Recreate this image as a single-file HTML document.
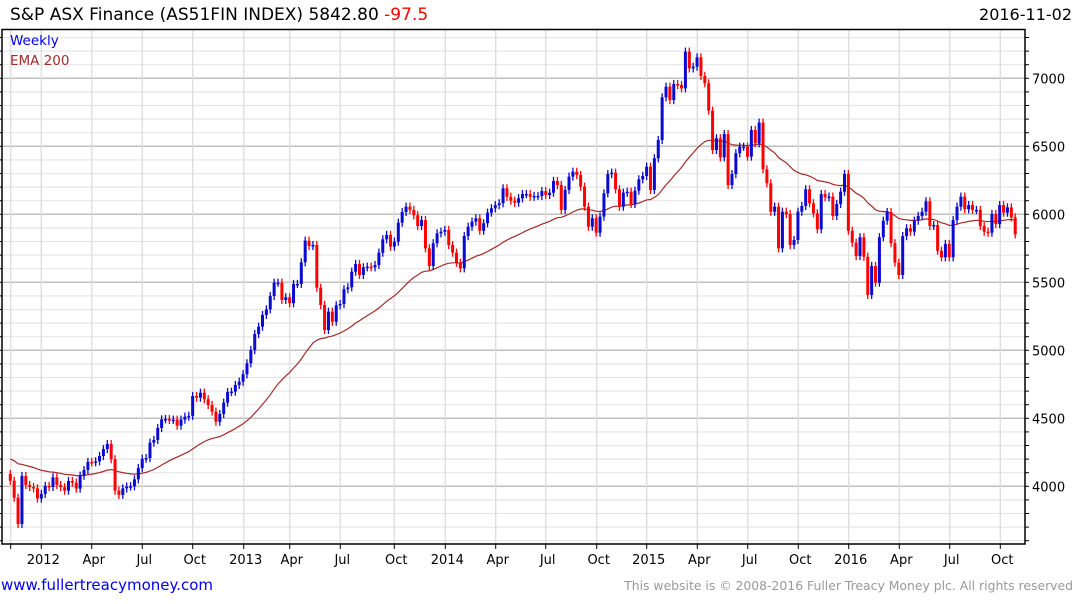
<!DOCTYPE html>
<html><head><meta charset="utf-8"><style>
body{margin:0;background:#fff;width:1075px;height:600px;overflow:hidden;font-family:"DejaVu Sans","Liberation Sans",sans-serif}
svg text{font-family:"DejaVu Sans","Liberation Sans",sans-serif}
</style></head><body>
<svg id="chart" width="1075" height="600" xmlns="http://www.w3.org/2000/svg">
<text x="10" y="20" font-size="17" fill="#000">S&amp;P ASX Finance (AS51FIN INDEX) 5842.80 <tspan fill="#f00">-97.5</tspan></text>
<text x="1072" y="20" font-size="16" fill="#000" text-anchor="end">2016-11-02</text>
<g id="grid"></g>
<g id="ema"></g>
<g id="candles"></g>
<g id="axes"></g>
<text x="10" y="45" font-size="13.5" fill="#0000ee">Weekly</text>
<text x="10" y="65" font-size="13.5" fill="#a52a2a">EMA 200</text>
<text x="1" y="590" font-size="15" fill="#0000ee">www.fullertreacymoney.com</text>
<text x="1073" y="590" font-size="12.4" fill="#999" text-anchor="end">This website is © 2008-2016 Fuller Treacy Money plc. All rights reserved</text>
</svg>
<script>
const closes = [4041,3916,3723,4076,4010,3995,3985,3910,3944,4003,3995,4066,4010,3993,3968,4039,4027,3983,4078,4120,
4179,4177,4184,4223,4274,4311,4199,3968,3937,3985,3998,4000,4051,4134,4203,4208,4321,4341,4429,4492,
4495,4488,4490,4446,4490,4512,4518,4664,4652,4688,4640,4598,4549,4475,4532,4615,4693,4696,4745,4769,
4824,4904,5002,5120,5174,5260,5301,5399,5497,5497,5370,5390,5346,5488,5488,5647,5806,5767,5774,5460,
5333,5149,5284,5210,5331,5340,5449,5463,5578,5635,5554,5610,5615,5610,5627,5718,5816,5848,5762,5799,
5938,6017,6056,6032,5993,5914,5958,5750,5620,5787,5860,5872,5885,5774,5718,5644,5603,5840,5909,5946,
5971,5879,5934,6012,6044,6068,6081,6191,6129,6100,6085,6118,6149,6149,6129,6135,6135,6171,6142,6159,
6245,6215,6032,6179,6277,6313,6289,6203,6056,5909,5971,5865,5983,6154,6296,6306,6184,6056,6159,6166,
6076,6174,6257,6282,6350,6179,6412,6546,6860,6938,6840,6958,6951,6926,7196,7073,7085,7154,7017,6963,
6762,6473,6559,6419,6590,6215,6296,6449,6497,6497,6424,6620,6522,6674,6331,6228,6019,6056,5750,6019,
6002,5774,5811,6019,6061,6184,6081,6007,5890,6149,6125,6130,5988,6076,6166,6296,5879,5791,5693,5831,
5688,5407,5620,5497,5831,5953,6017,5787,5644,5554,5840,5897,5872,5953,5988,6019,6096,5914,5921,5732,
5684,5782,5684,5958,6056,6130,6037,6068,6032,6032,5914,5872,5865,6002,5928,6068,6012,6051,5977,5853];
const firstOpen = 4090;
const emaSeed = 4210;
const yTicks = [4000,4500,5000,5500,6000,6500,7000];
const xTickLabels = ["2012","Apr","Jul","Oct","2013","Apr","Jul","Oct","2014","Apr","Jul","Oct","2015","Apr","Jul","Oct","2016","Apr","Jul","Oct"];
const xTickPos = [41.3,91.7,142.3,192.7,243.7,289.7,340.3,394.3,445.3,495.7,545.7,596.7,646.7,697.3,747.7,798.3,848.7,899.3,949.7,1000.3];

const NS="http://www.w3.org/2000/svg";
const L=2,R=1025,T=29.5,B=544;
function y(v){return 214.3-(v-6000)*0.136;}
function x(i){return 10.3+i*3.88;}
function mk(tag,attrs,parent){const e=document.createElementNS(NS,tag);for(const k in attrs)e.setAttribute(k,attrs[k]);parent.appendChild(e);return e;}
const grid=document.getElementById('grid'),axes=document.getElementById('axes'),cg=document.getElementById('candles'),eg=document.getElementById('ema');
for(let v=3600;v<=7300;v+=100){const yy=y(v);if(yy<T||yy>B)continue;const major=v%500===0;
 const ln=mk('line',{x1:L,x2:R,y1:yy,y2:yy,stroke:major?'#c0c0c0':'#e6e6e6','stroke-width':major?1.5:1.2},grid);
 
 const tk=mk('line',{x1:R,x2:R+4,y1:yy,y2:yy,stroke:'#000'},axes);
 const tk2=mk('line',{x1:L-3,x2:L,y1:yy,y2:yy,stroke:'#000'},axes);}
yTicks.forEach(v=>{const t=mk('text',{x:R+7,y:y(v)+5,'font-size':13,fill:'#000'},axes);t.textContent=v;
 });
const vx=[10.7].concat(xTickPos);
vx.forEach(px=>{const g=mk('line',{x1:px,x2:px,y1:T,y2:B,stroke:'#dcdcdc','stroke-width':1.3},grid);
 const tk=mk('line',{x1:px,x2:px,y1:B,y2:B+5,stroke:'#000'},axes);});
xTickLabels.forEach((s,i)=>{const t=mk('text',{x:xTickPos[i]+2,y:564,'font-size':13,fill:'#000','text-anchor':'middle'},axes);t.textContent=s;
 });
let fr=mk('path',{d:`M${L},${B} L${L},${T} L${R},${T} L${R},${B} Z`,fill:'none',stroke:'#000','stroke-width':1.5},axes);

let e=emaSeed,pts=[];const a=2/41;
closes.forEach((c,i)=>{e=e+a*(c-e);pts.push(x(i).toFixed(1)+','+y(e).toFixed(1));});
const pl=mk('polyline',{points:pts.join(' '),fill:'none',stroke:'#a52a2a','stroke-width':1.2},eg);

closes.forEach((c,i)=>{const o=i===0?firstOpen:closes[i-1];const up=c>=o;const col=up?'#0a0ad0':'#ff0000';
 const hi=Math.max(o,c)+30,lo=Math.min(o,c)-30;const cx=x(i);
 const w=mk('line',{x1:cx,x2:cx,y1:y(hi),y2:y(lo),stroke:col,'stroke-width':1.3},cg);
 
 const top=y(Math.max(o,c)),h=Math.max(1.5,Math.abs(y(o)-y(c)));
 const r=mk('rect',{x:cx-1.5,y:top,width:3,height:h,fill:col},cg);
 });
</script>
</body></html>
